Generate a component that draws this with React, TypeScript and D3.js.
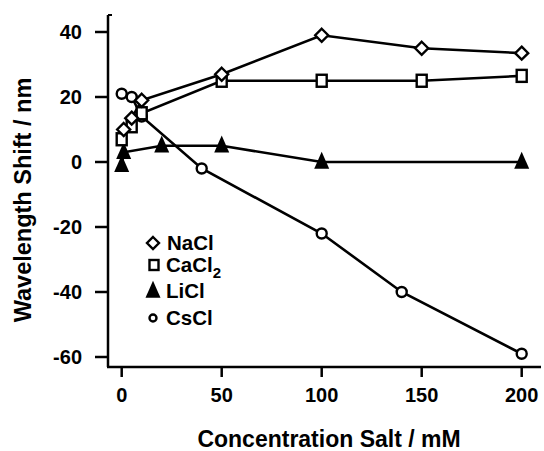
import React from "react";
import * as d3 from "d3";

const naclX = [1, 5, 10, 50, 100, 150, 200];
const naclY = [10, 13.5, 19, 27, 39, 35, 33.5];
const cacl2X = [0, 5, 10, 50, 100, 150, 200];
const cacl2Y = [7, 11, 15, 25, 25, 25, 26.5];
const liclX = [0, 1, 20, 50, 100, 200];
const liclY = [-1, 3, 5, 5, 0, 0];
const csclX = [0, 5, 10, 40, 100, 140, 200];
const csclY = [21, 20, 14, -2, -22, -40, -59];
const xTicks = [0, 50, 100, 150, 200];
const yTicks = [-60, -40, -20, 0, 20, 40];
const legendLabels = ["NaCl", "CaCl", "LiCl", "CsCl"];

const W = 544;
const H = 451;
const FONT = "'Liberation Sans', Arial, Helvetica, sans-serif";

export default function App() {
  const x = d3.scaleLinear().domain([0, 200]).range([121.7, 521.7]);
  const y = d3.scaleLinear().domain([-60, 40]).range([357, 32]);
  const line = d3
    .line<[number, number]>()
    .x((d) => x(d[0]))
    .y((d) => y(d[1]));

  const zip = (xs: number[], ys: number[]) =>
    xs.map((v, i) => [v, ys[i]] as [number, number]);

  const nacl = zip(naclX, naclY);
  const cacl2 = zip(cacl2X, cacl2Y);
  const licl = zip(liclX, liclY);
  const cscl = zip(csclX, csclY);

  const axisX0 = 108;
  const axisY0 = 367;

  const diamond = (cx: number, cy: number, r: number, key: string) => (
    <path
      key={key}
      d={`M${cx},${cy - r}L${cx + r},${cy}L${cx},${cy + r}L${cx - r},${cy}Z`}
      fill="white"
      stroke="black"
      strokeWidth={2.4}
    />
  );
  const square = (cx: number, cy: number, w: number, h: number, key: string) => (
    <rect
      key={key}
      x={cx - w / 2}
      y={cy - h / 2}
      width={w}
      height={h}
      fill="white"
      stroke="black"
      strokeWidth={2.4}
    />
  );
  const tri = (cx: number, cy: number, w: number, h: number, key: string) => (
    <path
      key={key}
      d={`M${cx},${cy - h * 0.6}L${cx + w / 2},${cy + h * 0.4}L${cx - w / 2},${cy + h * 0.4}Z`}
      fill="black"
    />
  );
  const circ = (cx: number, cy: number, r: number, key: string) => (
    <circle key={key} cx={cx} cy={cy} r={r} fill="white" stroke="black" strokeWidth={2.4} />
  );

  return (
    <svg
      width={W}
      height={H}
      style={{ position: "absolute", left: 0, top: 0, background: "white" }}
      fontFamily={FONT}
      fontWeight="bold"
    >
      {/* axes */}
      <line x1={axisX0} y1={15} x2={axisX0} y2={axisY0} stroke="black" strokeWidth={2.5} />
      <line x1={axisX0} y1={15} x2={112} y2={15} stroke="black" strokeWidth={2} />
      <line x1={axisX0 - 1} y1={axisY0} x2={541} y2={axisY0} stroke="black" strokeWidth={2.5} />
      {yTicks.map((t) => (
        <g key={"yt" + t}>
          <line x1={95} x2={axisX0} y1={y(t)} y2={y(t)} stroke="black" strokeWidth={2.5} />
          <text x={82} y={y(t)} dy="0.36em" textAnchor="end" fontSize={20}>
            {t}
          </text>
        </g>
      ))}
      {xTicks.map((t) => (
        <g key={"xt" + t}>
          <line x1={x(t)} x2={x(t)} y1={axisY0} y2={axisY0 + 10} stroke="black" strokeWidth={2.5} />
          <text x={x(t)} y={402} textAnchor="middle" fontSize={20}>
            {t}
          </text>
        </g>
      ))}
      <text x={329} y={447} textAnchor="middle" fontSize={23}>
        Concentration Salt / mM
      </text>
      <text
        transform={`translate(31,200) rotate(-90)`}
        textAnchor="middle"
        fontSize={23.5}
      >
        Wavelength Shift / nm
      </text>

      {/* lines */}
      {[nacl, cacl2, licl, cscl].map((s, i) => (
        <path key={"l" + i} d={line(s) || ""} fill="none" stroke="black" strokeWidth={2.6} />
      ))}

      {/* markers */}
      {licl.map((d, i) => tri(x(d[0]), y(d[1]), 15, 17, "t" + i))}
      {cscl.map((d, i) => circ(x(d[0]), y(d[1]), 5, "c" + i))}
      {cacl2.map((d, i) => square(x(d[0]), y(d[1]), 10, 12, "s" + i))}
      {nacl.map((d, i) => diamond(x(d[0]), y(d[1]), 6.5, "d" + i))}

      {/* legend */}
      {diamond(153, 243, 6, "ld")}
      <text x={167} y={250} fontSize={20.5}>
        {legendLabels[0]}
      </text>
      {square(154, 265, 9, 10, "ls")}
      <text x={166} y={272} fontSize={20.5}>
        {legendLabels[1]}
        <tspan fontSize={15} dy={6}>2</tspan>
      </text>
      {tri(153, 291, 15, 17, "lt")}
      <text x={166} y={298} fontSize={20.5}>
        {legendLabels[2]}
      </text>
      {circ(153, 318, 3.5, "lc")}
      <text x={166} y={325} fontSize={20.5}>
        {legendLabels[3]}
      </text>
    </svg>
  );
}
